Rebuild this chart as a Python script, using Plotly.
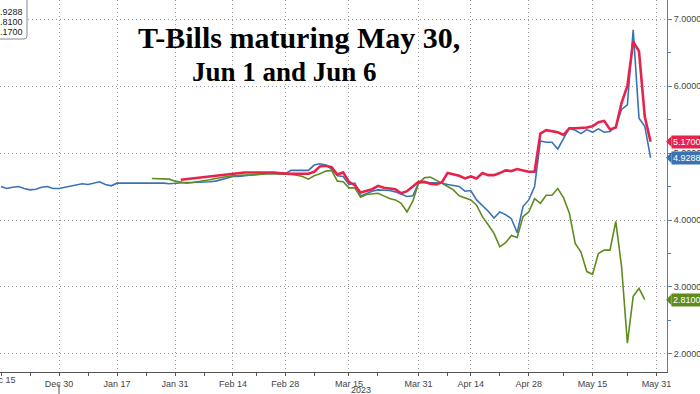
import pandas as pd
import plotly.graph_objects as go

# ---------------- data ----------------
holidays = ["2022-12-26", "2023-01-02", "2023-01-16", "2023-02-20", "2023-04-07", "2023-05-29"]
dates = pd.bdate_range("2022-12-15", "2023-05-30", freq="C", holidays=holidays)

blue_start = "2022-12-15"
blue_vals = [
    4.50, 4.47, 4.49, 4.50, 4.47, 4.45, 4.46, 4.49, 4.50, 4.47,
    4.47, 4.49, 4.50, 4.53, 4.54, 4.53, 4.55, 4.57, 4.53, 4.51,
    4.55, 4.55, 4.55, 4.55, 4.56, 4.56, 4.56, 4.55, 4.55, 4.54,
    4.55, 4.56, 4.56, 4.56, 4.56, 4.56, 4.57, 4.58, 4.60, 4.63,
    4.65, 4.65, 4.66, 4.68, 4.69, 4.69, 4.69, 4.69, 4.69, 4.69,
    4.74, 4.74, 4.74, 4.74, 4.82, 4.84, 4.82, 4.76, 4.66, 4.65,
    4.53, 4.55, 4.36, 4.40, 4.43, 4.45, 4.45, 4.44, 4.42, 4.38,
    4.35, 4.36, 4.55, 4.56, 4.56, 4.55, 4.55, 4.53, 4.52, 4.50,
    4.43, 4.44, 4.30, 4.22, 4.13, 4.03, 4.12, 4.08, 4.02, 3.81,
    4.20, 4.30, 4.50, 5.18, 5.16, 5.16, 5.06, 5.22, 5.37, 5.34,
    5.29, 5.35, 5.31, 5.36, 5.31, 5.32, 5.39, 5.65, 5.72, 6.84,
    5.52, 5.40, 4.9288,
]

green_start = "2023-01-25"
green_vals = [
    4.62, 4.62, 4.61, 4.61,
    4.58, 4.56, 4.55, 4.56, 4.57, 4.59, 4.60, 4.62, 4.64, 4.65,
    4.66, 4.67, 4.67, 4.67, 4.68, 4.69, 4.69, 4.69, 4.69, 4.69,
    4.68, 4.67, 4.65, 4.61, 4.66, 4.69, 4.73, 4.74, 4.58, 4.57,
    4.48, 4.48, 4.34, 4.38, 4.39, 4.40, 4.36, 4.32, 4.30, 4.25,
    4.12, 4.28, 4.55, 4.63, 4.64, 4.60, 4.55, 4.50, 4.45, 4.36,
    4.33, 4.30, 4.22, 4.05, 3.93, 3.80, 3.60, 3.66, 3.77, 3.74,
    4.05, 4.12, 4.32, 4.25, 4.37, 4.37, 4.47, 4.33, 4.10, 3.65,
    3.52, 3.23, 3.19, 3.50, 3.55, 3.55, 3.98, 3.30, 2.16, 2.86,
    2.98, 2.81,
]

red_start = "2023-02-01"
red_vals = [
    4.60, 4.61, 4.62, 4.64, 4.65, 4.66, 4.67, 4.67, 4.69,
    4.70, 4.70, 4.71, 4.71, 4.71, 4.71, 4.72, 4.71, 4.70, 4.69,
    4.69, 4.69, 4.69, 4.69, 4.72, 4.80, 4.81, 4.79, 4.68, 4.71,
    4.57, 4.52, 4.41, 4.44, 4.46, 4.51, 4.48, 4.47, 4.46, 4.40,
    4.43, 4.50, 4.57, 4.57, 4.54, 4.53, 4.56, 4.70, 4.68, 4.66,
    4.62, 4.65, 4.62, 4.70, 4.67, 4.67, 4.70, 4.74, 4.73, 4.76,
    4.74, 4.72, 4.72, 5.29, 5.34, 5.33, 5.31, 5.27, 5.37, 5.37,
    5.37, 5.38, 5.40, 5.46, 5.48, 5.35, 5.38, 5.75, 6.00, 6.66,
    6.52, 5.54, 5.17,
]

tick_dates = ["2022-12-15", "2022-12-30", "2023-01-17", "2023-01-31", "2023-02-14", "2023-02-28",
              "2023-03-15", "2023-03-31", "2023-04-14", "2023-04-28", "2023-05-15", "2023-05-31"]
tick_labels = ["Dec 15", "Dec 30", "Jan 17", "Jan 31", "Feb 14", "Feb 28",
               "Mar 15", "Mar 31", "Apr 14", "Apr 28", "May 15", "May 31"]
minor_dates = ["2022-12-22", "2023-01-09", "2023-01-24", "2023-02-07", "2023-02-21", "2023-03-07",
               "2023-03-22", "2023-04-10", "2023-04-21", "2023-05-08", "2023-05-23"]

title_line1 = "T-Bills maturing May 30,"
title_line2 = "Jun 1 and Jun 6"

# ---------------- style ----------------
BLUE = "#3a73b3"
GREEN = "#5f8c1f"
RED = "#e5244d"
FONT = "Liberation Sans, Arial, sans-serif"
FS = 9

W, H = 700, 394
ML, MR, MT, MB = 0, 33, 0, 22
PW, PH = W - ML - MR, H - MT - MB


def px_x(px):
    return (px - ML) / PW


def px_y(py):
    return 1 - (py - MT) / PH


def series_x(start, n):
    i0 = list(dates).index(pd.Timestamp(start))
    return dates[i0:i0 + n]


fig = go.Figure()
fig.add_trace(go.Scatter(x=series_x(blue_start, len(blue_vals)), y=blue_vals, mode="lines",
                         line=dict(color=BLUE, width=1.6), name="blue"))
fig.add_trace(go.Scatter(x=series_x(green_start, len(green_vals)), y=green_vals, mode="lines",
                         line=dict(color=GREEN, width=1.6), name="green"))
fig.add_trace(go.Scatter(x=series_x(red_start, len(red_vals)), y=red_vals, mode="lines",
                         line=dict(color=RED, width=2.6), name="red"))

y_lo, y_hi = 1.731, 7.284
units_per_px = (y_hi - y_lo) / PH

annotations = []
shapes = []

# right-side last value labels with arrow
for vals, col in [(red_vals, RED), (blue_vals, BLUE), (green_vals, GREEN)]:
    v = vals[-1]
    annotations.append(dict(x=px_x(670.5), y=v, xref="paper", yref="y", xanchor="left", yanchor="middle",
                            text=f"{v:.4f}", showarrow=False, bgcolor=col, borderpad=1,
                            font=dict(color="white", size=FS, family=FONT)))
    h = 5.5 * units_per_px
    path = f"M {px_x(666)} {v} L {px_x(671.5)} {v + h} L {px_x(671.5)} {v - h} Z"
    shapes.append(dict(type="path", path=path, xref="paper", yref="y", fillcolor=col, line=dict(width=0)))

# title
annotations.append(dict(x=px_x(299), y=px_y(37), xref="paper", yref="paper", xanchor="center", yanchor="middle",
                        text=f"<b>{title_line1}</b>", showarrow=False,
                        font=dict(family="Liberation Serif, Times New Roman, serif", size=30, color="black")))
annotations.append(dict(x=px_x(284), y=px_y(72), xref="paper", yref="paper", xanchor="center", yanchor="middle",
                        text=f"<b>{title_line2}</b>", showarrow=False,
                        font=dict(family="Liberation Serif, Times New Roman, serif", size=27, color="black")))

# legend box (top-left)
x0, x1, y0, y1, r = -6, 27, -6, 39, 3
path = (f"M {px_x(x0)} {px_y(y0)} L {px_x(x1 - r)} {px_y(y0)} "
        f"Q {px_x(x1)} {px_y(y0)} {px_x(x1)} {px_y(y0 + r)} "
        f"L {px_x(x1)} {px_y(y1 - r)} Q {px_x(x1)} {px_y(y1)} {px_x(x1 - r)} {px_y(y1)} "
        f"L {px_x(x0)} {px_y(y1)} Z")
shapes.append(dict(type="path", path=path, xref="paper", yref="paper", fillcolor="white",
                   line=dict(color="#8a8a8a", width=1), layer="above"))
for i, vals in enumerate([blue_vals, green_vals, red_vals]):
    annotations.append(dict(x=px_x(25), y=px_y(12 + 10 * i), xref="paper", yref="paper", xanchor="right",
                            yanchor="middle", text=f"{vals[-1]:.4f}", showarrow=False,
                            font=dict(color="#222", size=FS, family=FONT)))

# first x label (partly outside the page, as in the source)
annotations.append(dict(x=tick_dates[0], y=px_y(380), xref="x", yref="paper", xanchor="center", yanchor="middle",
                        text=tick_labels[0], showarrow=False, font=dict(color="#444", size=FS, family=FONT)))

# year label and separator
annotations.append(dict(x="2023-03-15", y=px_y(390), xref="x", yref="paper", xanchor="left", yanchor="middle",
                        text="2023", showarrow=False, font=dict(color="#444", size=FS, family=FONT)))
shapes.append(dict(type="line", x0="2022-12-30", x1="2022-12-30", xref="x", yref="paper",
                   y0=px_y(384), y1=px_y(394), line=dict(color="#555", width=1)))

fig.update_layout(
    width=W, height=H,
    margin=dict(l=ML, r=MR, t=MT, b=MB, autoexpand=False),
    paper_bgcolor="white", plot_bgcolor="white",
    showlegend=False,
    annotations=annotations,
    shapes=shapes,
    font=dict(family=FONT, size=FS, color="#444"),
)
fig.update_xaxes(
    type="date",
    range=["2022-12-14 19:52", "2023-06-01 19:55"],
    rangebreaks=[dict(bounds=["sat", "mon"]), dict(values=holidays)],
    tickmode="array", tickvals=tick_dates, ticktext=[""] + tick_labels[1:],
    ticks="outside", ticklen=3, tickcolor="#555",
    showline=True, linecolor="#555", linewidth=1,
    showgrid=True, gridcolor="#9a9a9a", griddash="1px,3px", gridwidth=1,
    minor=dict(tickmode="array", tickvals=minor_dates, ticks="outside", ticklen=3, tickcolor="#555", showgrid=False),
    tickfont=dict(size=FS, color="#444", family=FONT),
    zeroline=False,
)
fig.update_yaxes(
    side="right", range=[y_lo, y_hi],
    tickmode="linear", tick0=0, dtick=1, tickformat=".4f",
    ticks="outside", ticklen=4, tickcolor="#5a7ea6",
    showline=True, linecolor="#5a7ea6", linewidth=1,
    showgrid=True, gridcolor="#9a9a9a", griddash="1px,3px", gridwidth=1,
    minor=dict(dtick=0.5, ticks="outside", ticklen=3, tickcolor="#5a7ea6", showgrid=False),
    tickfont=dict(size=FS, color="#444", family=FONT),
    zeroline=False,
)

fig.write_html("out.html", config={"displayModeBar": False},
               post_script="document.body.style.margin='0';document.body.style.overflow='hidden';")
